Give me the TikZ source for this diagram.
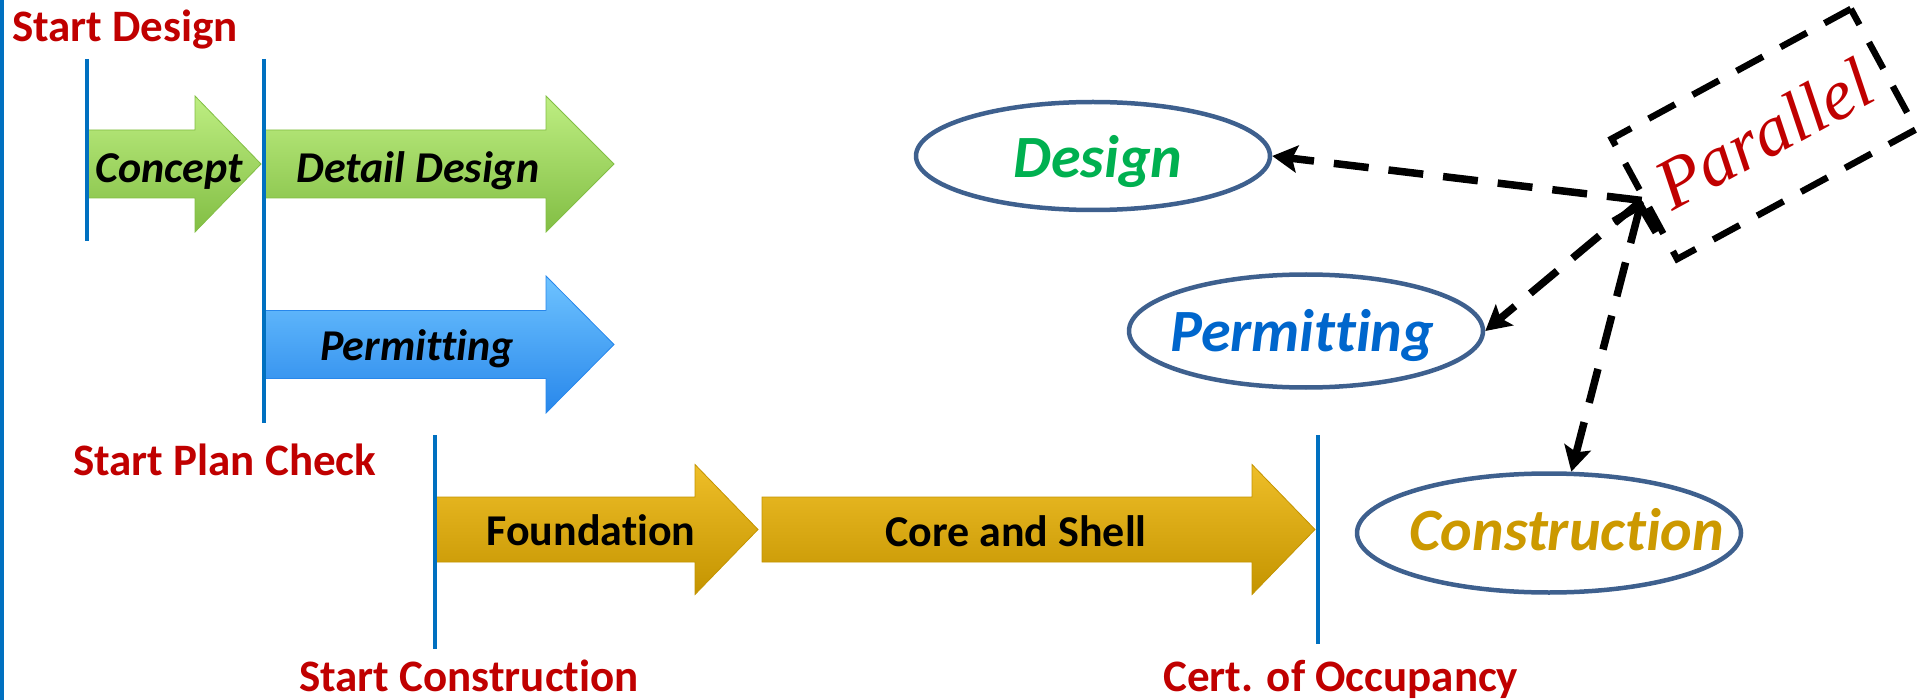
\documentclass[tikz,border=0pt]{standalone}
\usepackage{fontspec}
\newfontfamily\carl[Ligatures=NoCommon]{Carlito}
\newfontfamily\parfont{Liberation Serif}
\usetikzlibrary{arrows.meta,shapes.geometric,calc}
\definecolor{tlred}{RGB}{192,0,0}
\definecolor{tlblue}{RGB}{0,112,192}
\definecolor{ellline}{RGB}{62,96,142}
\definecolor{dgreen}{RGB}{0,176,80}
\definecolor{pblue}{RGB}{0,102,204}
\definecolor{cgold}{RGB}{204,153,0}
\definecolor{gtop}{RGB}{190,238,130}
\definecolor{gmid}{RGB}{146,208,80}
\definecolor{gbot}{RGB}{130,190,68}
\definecolor{btop}{RGB}{110,195,255}
\definecolor{bmid}{RGB}{51,153,255}
\definecolor{bbot}{RGB}{40,135,235}
\definecolor{otop}{RGB}{238,190,40}
\definecolor{omid}{RGB}{214,164,8}
\definecolor{obot}{RGB}{196,148,0}
\newcommand\blockarrow[7]{%
  \path[#1] (#2,#5-#6) -- (#3,#5-#6) -- (#3,#5-#7) -- (#4,#5) -- (#3,#5+#7) -- (#3,#5+#6) -- (#2,#5+#6) -- cycle;}
\tikzset{
  redlabel/.style={font=\carl\bfseries\fontsize{45}{54}\selectfont, text=tlred, anchor=base west, inner sep=0pt},
  steptext/.style={font=\carl\bfseries\itshape\fontsize{44}{52}\selectfont, anchor=base, inner sep=0pt},
  steptextup/.style={font=\carl\bfseries\fontsize{44}{52}\selectfont, anchor=base, inner sep=0pt},
  milestone/.style={draw=tlblue, line width=4.5pt},
  phase/.style={ellipse, draw=ellline, line width=4.5pt, inner sep=0pt},
  phasetext/.style={font=\carl\bfseries\itshape\fontsize{60}{70}\selectfont, anchor=base, inner sep=0pt},
  dasharrow/.style={draw=black, line width=7.5pt, dash pattern=on 35pt off 20pt},
  greenarrow/.style={top color=gtop, middle color=gmid, bottom color=gbot, draw=gbot, line width=0.8pt},
  bluearrow/.style={top color=btop, middle color=bmid, bottom color=bbot, draw=bbot, line width=0.8pt},
  goldarrow/.style={top color=otop, middle color=omid, bottom color=obot, draw=obot, line width=0.8pt},
  parbox/.style={draw=black, line width=6.5pt, dash pattern=on 30pt off 20pt, minimum width=272pt, minimum height=137pt, inner sep=0pt, rotate=28.5, font=\parfont\itshape\fontsize{72}{80}\selectfont, text=tlred},
  filltip/.style={-{Stealth[length=25pt,width=27pt,inset=5pt]}}
}
\begin{document}
\begin{tikzpicture}[x=1pt,y=-1pt]
\useasboundingbox (0,0) rectangle (1929,700);
% left edge line
\draw[milestone, line width=4pt] (2,0) -- (2,700);
% block arrows
\blockarrow{greenarrow}{87}{195}{261}{164}{34}{68}
\blockarrow{greenarrow}{265}{546}{614}{164}{34}{68}
\blockarrow{bluearrow}{265}{546}{614}{344.5}{34}{68.5}
\blockarrow{goldarrow}{435}{695}{758}{529.5}{32.5}{65}
\blockarrow{goldarrow}{762}{1252}{1315}{529.5}{32.5}{65}
% milestone lines
\draw[milestone] (87,59) -- (87,241);
\draw[milestone] (264,59) -- (264,423);
\draw[milestone] (435,435) -- (435,649);
\draw[milestone] (1318,435) -- (1318,644);
% arrow labels
\node[steptext] (concept) at (169,183) {Concept};
\node[steptext] (detail) at (418,183) {Detail Design};
\node[steptext] (permit) at (417,360) {Permitting};
\node[steptextup] (found) at (591,545) {Foundation};
\node[steptextup] (core) at (1016,546) {Core and Shell};
% milestone labels
\node[redlabel] (sd) at (12,42) {Start Design};
\node[redlabel] (spc) at (73,475) {Start Plan Check};
\node[redlabel] (sc) at (299,691) {Start Construction};
\node[redlabel] (co) at (1163,691) {Cert. of Occupancy};
% ellipses
\node[phase, minimum width=354pt, minimum height=108pt] (design) at (1093,156) {};
\node[phase, minimum width=354pt, minimum height=113pt] (perm) at (1306,331) {};
\node[phase, minimum width=384pt, minimum height=119pt] (constr) at (1549,533) {};
\node[phasetext, text=dgreen] (designlbl) at (1098,178) {Design};
\node[phasetext, text=pblue] (permlbl) at (1302,352) {Permitting};
\node[phasetext, text=cgold] (constrlbl) at (1567,550) {Construction};
% parallel box
\node[parbox] (par) at (1764,134) {Parallel};
% connectors
\draw[dasharrow, filltip] (par.west) -- (design.east);
\draw[dasharrow, filltip] (par.west) -- (perm.east);
\draw[dasharrow, {Straight Barb[length=22pt,width=44pt]}-{Stealth[length=25pt,width=27pt,inset=5pt]}] (par.west) -- (constr.70);
\end{tikzpicture}
\end{document}
